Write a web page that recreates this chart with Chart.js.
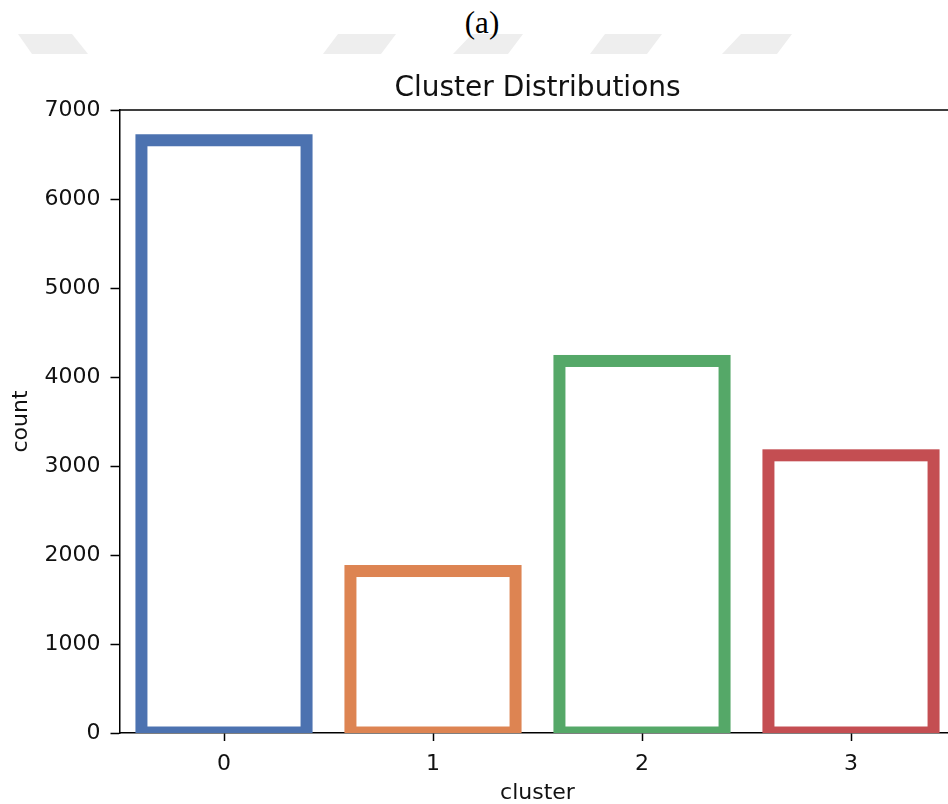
<!DOCTYPE html>
<html>
<head>
<meta charset="utf-8">
<script src="https://cdn.jsdelivr.net/npm/chart.js@4.4.1/dist/chart.umd.min.js"></script>
<style>
  html, body { margin: 0; padding: 0; background: #fff; overflow: hidden; width: 948px; height: 804px; }
  #wrap { position: relative; width: 948px; height: 804px; overflow: hidden; }
  #chart { position: absolute; left: 0; top: 0; }
  #label { position: absolute; left: 282px; top: 7px; width: 400px; text-align: center;
           font-family: "Liberation Serif", serif; font-size: 31px; line-height: 1; color: #000; }
  #marks { position: absolute; left: 0; top: 0; }
</style>
</head>
<body>
<div id="wrap">
  <svg id="marks" width="948" height="70">
    <polygon points="18,34 72,34 88,54 32,54" fill="#eeeeee"/>
    <polygon points="338,34 396,34 381,54 323,54" fill="#eeeeee"/>
    <polygon points="472,34 523,34 508,54 453,54" fill="#eeeeee"/>
    <polygon points="605,34 662,34 647,54 590,54" fill="#eeeeee"/>
    <polygon points="741,34 792,34 777,54 722,54" fill="#eeeeee"/>
  </svg>
  <div id="label">(a)</div>
  <canvas id="chart" width="960" height="804"></canvas>
</div>
<script>
// values
const clusters = ["0", "1", "2", "3"];
const counts = [6660, 1820, 4180, 3120];
const barColors = ["#4c72b0", "#dd8452", "#55a868", "#c44e52"];
const yMax = 7000;
const yStep = 1000;

const font = "DejaVu Sans";

// matplotlib draws the edge centred on the bar outline, so stroke it ourselves
const edgeBars = {
  id: "edgeBars",
  afterDatasetsDraw(chart) {
    const ctx = chart.ctx;
    const area = chart.chartArea;
    const meta = chart.getDatasetMeta(0);
    ctx.save();
    ctx.beginPath();
    ctx.rect(area.left, area.top, area.right - area.left, area.bottom - area.top);
    ctx.clip();
    ctx.lineWidth = 12;
    ctx.lineJoin = "miter";
    meta.data.forEach((bar, i) => {
      const p = bar.getProps(["x", "y", "base", "width"], true);
      ctx.strokeStyle = barColors[i];
      ctx.strokeRect(p.x - p.width / 2, p.y, p.width, p.base - p.y);
    });
    ctx.restore();
  }
};

const spines = {
  id: "spines",
  afterDraw(chart) {
    const ctx = chart.ctx;
    const a = chart.chartArea;
    ctx.save();
    ctx.strokeStyle = "#000";
    ctx.lineWidth = 1.5;
    ctx.beginPath();
    ctx.moveTo(a.left, a.top);
    ctx.lineTo(a.right, a.top);
    ctx.lineTo(a.right, a.bottom);
    ctx.stroke();
    ctx.restore();
  }
};

new Chart(document.getElementById("chart"), {
  type: "bar",
  data: {
    labels: clusters,
    datasets: [
      {
        data: counts,
        backgroundColor: "rgba(0,0,0,0)",
        borderWidth: 0,
        barPercentage: 0.79,
        categoryPercentage: 1.0,
      },
    ],
  },
  options: {
    responsive: false,
    animation: false,
    events: [],
    devicePixelRatio: 1,
    layout: { padding: { top: 0, left: 0, right: 4.5, bottom: 0 } },
    plugins: {
      legend: { display: false },
      tooltip: { enabled: false },
      title: {
        display: true,
        text: "Cluster Distributions",
        fullSize: false,
        color: "#111",
        font: { family: font, size: 28, weight: "normal", lineHeight: 1.2 },
        padding: { top: 72, bottom: 4.4 },
      },
    },
    scales: {
      x: {
        z: 1,
        offset: true,
        afterFit: (s) => { s.height = 71; },
        grid: { display: true, offset: false, drawOnChartArea: false, tickLength: 8, tickColor: "#000", tickWidth: 1.5 },
        border: { display: true, color: "#000", width: 1.5 },
        ticks: { color: "#111", padding: 10, font: { family: font, size: 22 } },
        title: {
          display: true,
          text: "cluster",
          color: "#111",
          font: { family: font, size: 22, lineHeight: 1.0 },
          padding: { top: 0, bottom: 0 },
        },
      },
      y: {
        z: 1,
        min: 0,
        max: yMax,
        afterFit: (s) => { s.width = 119.5; },
        grid: { display: true, drawOnChartArea: false, tickLength: 9, tickColor: "#000", tickWidth: 1.5 },
        border: { display: true, color: "#000", width: 1.5 },
        ticks: {
          stepSize: yStep,
          color: "#111",
          padding: 10,
          font: { family: font, size: 22 },
          callback: (v) => String(v),
        },
        title: {
          display: true,
          text: "count",
          color: "#111",
          font: { family: font, size: 22, lineHeight: 1.0 },
          padding: { top: 10, bottom: 0 },
        },
      },
    },
  },
  plugins: [edgeBars, spines],
});
</script>
</body>
</html>
